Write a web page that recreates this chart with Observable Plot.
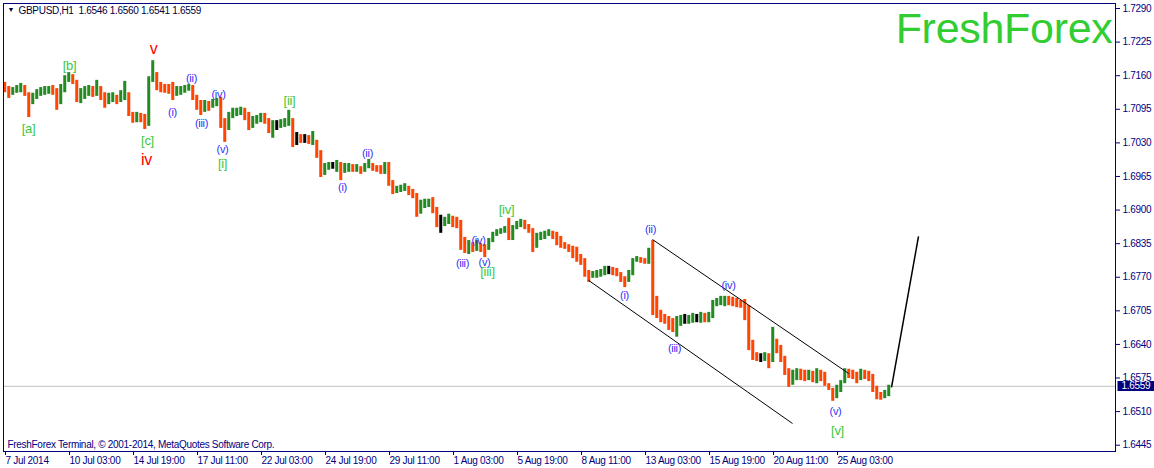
<!DOCTYPE html>
<html><head><meta charset="utf-8">
<script src="https://cdn.jsdelivr.net/npm/d3@7"></script>
<script src="https://cdn.jsdelivr.net/npm/@observablehq/plot@0.6"></script>
<style>
html,body{margin:0;padding:0;background:#fff;}
#chart{width:1154px;height:468px;overflow:hidden;}
</style></head><body><div id="chart"></div>
<script>
// ---- data (H1 bars grouped by 4 hours) ----
const symbol = "GBPUSD,H1";
const lastBar = [1.6546, 1.6560, 1.6541, 1.6559];
const copyright = "FreshForex Terminal, \u00A9 2001-2014, MetaQuotes Software Corp.";
const brand = "FreshForex";
const hoursPerBlock = 4;
const visibleBars = 1112;
const priceMin = 1.64328, priceMax = 1.72997;
const firstOpen = 1.7143;

const closes = [
1.7131,1.7126,1.7131,1.7133,1.7135,1.7124,1.7112,1.7120,1.7127,1.7130,
1.7131,1.7133,1.7127,1.7112,1.7131,1.7155,1.7156,1.7151,1.7120,1.7124,
1.7127,1.7130,1.7127,1.7139,1.7122,1.7112,1.7118,1.7120,1.7114,1.7120,
1.7126,1.7089,1.7077,1.7081,1.7079,1.7066,1.7151,1.7166,1.7139,1.7135,
1.7133,1.7131,1.7127,1.7131,1.7133,1.7135,1.7137,1.7120,1.7104,1.7097,
1.7104,1.7100,1.7106,1.7112,1.7073,1.7058,1.7081,1.7089,1.7091,1.7093,
1.7081,1.7069,1.7073,1.7077,1.7079,1.7073,1.7062,1.7064,1.7064,1.7068,
1.7071,1.7077,1.7039,1.7039,1.7037,1.7037,1.7033,1.7035,1.7011,1.6977,
1.6984,1.6986,1.6986,1.6988,1.6977,1.6980,1.6982,1.6980,1.6984,1.6977,
1.6984,1.6988,1.6980,1.6979,1.6977,1.6980,1.6953,1.6938,1.6940,1.6942,
1.6944,1.6936,1.6928,1.6903,1.6909,1.6913,1.6915,1.6903,1.6876,1.6876,
1.6880,1.6882,1.6876,1.6872,1.6833,1.6826,1.6830,1.6828,1.6830,1.6826,
1.6822,1.6839,1.6851,1.6857,1.6860,1.6862,1.6849,1.6864,1.6872,1.6876,
1.6868,1.6862,1.6831,1.6841,1.6849,1.6853,1.6857,1.6849,1.6841,1.6831,
1.6830,1.6824,1.6812,1.6806,1.6802,1.6777,1.6771,1.6773,1.6775,1.6777,
1.6783,1.6783,1.6781,1.6777,1.6766,1.6764,1.6775,1.6799,1.6804,1.6802,
1.6799,1.6818,1.6715,1.6706,1.6690,1.6686,1.6677,1.6675,1.6682,1.6686,
1.6686,1.6688,1.6690,1.6690,1.6694,1.6692,1.6694,1.6715,1.6721,1.6725,
1.6727,1.6725,1.6723,1.6721,1.6717,1.6713,1.6638,1.6619,1.6615,1.6615,
1.6617,1.6605,1.6642,1.6636,1.6613,1.6590,1.6574,1.6582,1.6584,1.6580,
1.6578,1.6582,1.6576,1.6580,1.6578,1.6562,1.6555,1.6541,1.6551,1.6564,
1.6586,1.6584,1.6580,1.6570,1.6586,1.6582,1.6576,1.6555,1.6541,1.6539,
1.6547,1.6559];

const highs = [
1.7147,1.7139,1.7137,1.7141,1.7145,1.7141,1.7127,1.7126,1.7133,1.7137,
1.7139,1.7139,1.7141,1.7135,1.7143,1.7160,1.7166,1.7162,1.7141,1.7135,
1.7139,1.7141,1.7139,1.7151,1.7139,1.7127,1.7126,1.7127,1.7122,1.7131,
1.7149,1.7127,1.7089,1.7089,1.7087,1.7085,1.7158,1.7189,1.7164,1.7147,
1.7143,1.7143,1.7147,1.7139,1.7139,1.7141,1.7143,1.7141,1.7122,1.7112,
1.7112,1.7110,1.7114,1.7116,1.7118,1.7077,1.7089,1.7097,1.7097,1.7099,
1.7097,1.7089,1.7081,1.7083,1.7087,1.7087,1.7077,1.7073,1.7073,1.7075,
1.7077,1.7093,1.7077,1.7050,1.7046,1.7046,1.7044,1.7052,1.7035,1.7015,
1.6990,1.6992,1.6992,1.6996,1.6992,1.6990,1.6990,1.6988,1.6988,1.6984,
1.6990,1.6998,1.6990,1.6986,1.6986,1.6992,1.6992,1.6957,1.6946,1.6948,
1.6951,1.6946,1.6940,1.6932,1.6919,1.6921,1.6921,1.6924,1.6905,1.6890,
1.6886,1.6892,1.6888,1.6886,1.6880,1.6847,1.6841,1.6837,1.6841,1.6835,
1.6833,1.6845,1.6857,1.6862,1.6864,1.6868,1.6884,1.6870,1.6878,1.6882,
1.6880,1.6872,1.6864,1.6855,1.6857,1.6859,1.6862,1.6859,1.6857,1.6849,
1.6837,1.6833,1.6830,1.6828,1.6814,1.6806,1.6783,1.6781,1.6783,1.6785,
1.6791,1.6791,1.6789,1.6787,1.6779,1.6771,1.6783,1.6806,1.6810,1.6808,
1.6806,1.6826,1.6841,1.6733,1.6702,1.6698,1.6694,1.6690,1.6694,1.6696,
1.6698,1.6696,1.6700,1.6698,1.6702,1.6700,1.6702,1.6725,1.6729,1.6733,
1.6733,1.6733,1.6731,1.6729,1.6725,1.6727,1.6715,1.6648,1.6624,1.6622,
1.6624,1.6622,1.6673,1.6650,1.6638,1.6617,1.6593,1.6590,1.6593,1.6592,
1.6590,1.6590,1.6588,1.6593,1.6590,1.6586,1.6564,1.6555,1.6561,1.6570,
1.6593,1.6592,1.6590,1.6586,1.6592,1.6590,1.6588,1.6582,1.6559,1.6547,
1.6551,1.6561];

const lows = [
1.7127,1.7116,1.7122,1.7126,1.7127,1.7120,1.7079,1.7104,1.7114,1.7120,
1.7122,1.7124,1.7122,1.7093,1.7104,1.7127,1.7147,1.7143,1.7108,1.7106,
1.7114,1.7120,1.7118,1.7120,1.7112,1.7097,1.7104,1.7108,1.7104,1.7108,
1.7112,1.7081,1.7068,1.7069,1.7069,1.7056,1.7062,1.7147,1.7131,1.7127,
1.7126,1.7124,1.7112,1.7120,1.7122,1.7126,1.7130,1.7112,1.7093,1.7083,
1.7089,1.7091,1.7097,1.7100,1.7058,1.7031,1.7054,1.7077,1.7081,1.7083,
1.7073,1.7054,1.7058,1.7066,1.7069,1.7066,1.7048,1.7039,1.7054,1.7058,
1.7060,1.7062,1.7021,1.7025,1.7029,1.7029,1.7027,1.7025,1.7000,1.6963,
1.6967,1.6977,1.6979,1.6973,1.6957,1.6971,1.6973,1.6973,1.6973,1.6969,
1.6973,1.6980,1.6975,1.6973,1.6969,1.6969,1.6946,1.6930,1.6932,1.6934,
1.6936,1.6928,1.6922,1.6886,1.6892,1.6903,1.6905,1.6893,1.6866,1.6855,
1.6868,1.6872,1.6866,1.6864,1.6822,1.6816,1.6814,1.6818,1.6820,1.6818,
1.6808,1.6822,1.6837,1.6849,1.6853,1.6855,1.6841,1.6841,1.6862,1.6866,
1.6862,1.6855,1.6818,1.6826,1.6841,1.6843,1.6849,1.6843,1.6831,1.6826,
1.6824,1.6818,1.6806,1.6799,1.6793,1.6770,1.6760,1.6768,1.6768,1.6770,
1.6773,1.6775,1.6773,1.6771,1.6760,1.6750,1.6760,1.6773,1.6799,1.6797,
1.6795,1.6795,1.6696,1.6690,1.6682,1.6679,1.6667,1.6663,1.6654,1.6675,
1.6679,1.6679,1.6681,1.6682,1.6681,1.6682,1.6682,1.6690,1.6713,1.6715,
1.6713,1.6715,1.6713,1.6711,1.6710,1.6686,1.6628,1.6609,1.6607,1.6605,
1.6607,1.6593,1.6605,1.6622,1.6605,1.6580,1.6557,1.6561,1.6570,1.6570,
1.6568,1.6570,1.6566,1.6564,1.6568,1.6559,1.6551,1.6530,1.6535,1.6547,
1.6566,1.6574,1.6572,1.6564,1.6574,1.6572,1.6568,1.6547,1.6533,1.6532,
1.6535,1.6539];

const timeTickBars = [0, 64, 128, 192, 256, 320, 384, 448, 512, 576, 640, 704, 768, 832];
const timeTickLabels = ["7 Jul 2014", "10 Jul 03:00", "14 Jul 19:00", "17 Jul 11:00", "22 Jul 03:00",
  "24 Jul 19:00", "29 Jul 11:00", "1 Aug 03:00", "5 Aug 19:00", "8 Aug 11:00", "13 Aug 03:00",
  "15 Aug 19:00", "20 Aug 11:00", "25 Aug 03:00"];
const priceTicks = [1.7290, 1.7225, 1.7160, 1.7095, 1.7030, 1.6965, 1.6900, 1.6835,
  1.6770, 1.6705, 1.6640, 1.6575, 1.6510, 1.6445];

// Elliott wave labels: [text, bar, price]
const redLabels = [["v", 150, 1.7211], ["iv", 143, 1.6998]];
const greenLabels = [["[a]", 25, 1.7058], ["[b]", 66, 1.7180], ["[c]", 144, 1.7033], ["[i]", 219, 1.6990],
  ["[ii]", 286, 1.7112], ["[iii]", 484, 1.6781], ["[iv]", 503, 1.6901], ["[v]", 834, 1.6473]];
const blueLabels = [["(i)", 169, 1.7089], ["(ii)", 188, 1.7155], ["(iii)", 198, 1.7068], ["(iv)", 215, 1.7124],
  ["(v)", 219, 1.7017], ["(i)", 339, 1.6944], ["(ii)", 364, 1.7010], ["(iii)", 459, 1.6797],
  ["(iv)", 475, 1.6841], ["(v)", 481, 1.6799], ["(i)", 621, 1.6735], ["(ii)", 647, 1.6862],
  ["(iii)", 671, 1.6632], ["(iv)", 725, 1.6754], ["(v)", 832, 1.6510]];

// trend lines: [bar1, price1, bar2, price2]
const channelLines = [[649, 1.6843, 845, 1.6584], [585, 1.6764, 789, 1.6487]];
const forecastLine = [[888, 1.6557, 915, 1.6849]];

// ---- build ----
const bull = "#228B22", bear = "#FF4500", doji = "#000000";
const blocks = closes.map((c, k) => {
  const o = k === 0 ? firstOpen : closes[k - 1];
  return {
    t: k * hoursPerBlock,
    hi: Math.max(highs[k], o, c),
    lo: Math.min(lows[k], o, c),
    color: Math.abs(c - o) < 0.00005 ? doji : (c > o ? bull : bear)
  };
});
const toObj = a => ({label: a[0], bar: a[1], price: a[2]});
const toLink = a => ({x1: a[0], y1: a[1], x2: a[2], y2: a[3]});
const lastClose = lastBar[3];
const title = symbol + "  " + lastBar.map(v => v.toFixed(4)).join(" ");

const svg = Plot.plot({
  width: 1154, height: 468,
  marginLeft: 3, marginRight: 39, marginTop: 3, marginBottom: 17,
  style: {fontFamily: "'Liberation Sans', Arial, sans-serif", fontSize: "10px", color: "#000080",
    background: "#fff", overflow: "visible", letterSpacing: "-0.3px"},
  x: {domain: [0, visibleBars], axis: null},
  y: {domain: [priceMin, priceMax], axis: null},
  color: {type: "identity"},
  marks: [
    Plot.ruleY([lastClose], {stroke: "#C0C0C0", strokeWidth: 1}),
    Plot.rect(blocks, {x1: "t", x2: d => d.t + hoursPerBlock, y1: "lo", y2: "hi", fill: "color", insetLeft: 0.25, insetRight: 0.75}),
    Plot.link(channelLines.map(toLink), {x1: "x1", y1: "y1", x2: "x2", y2: "y2", stroke: "#000", strokeWidth: 1}),
    Plot.link(forecastLine.map(toLink), {x1: "x1", y1: "y1", x2: "x2", y2: "y2", stroke: "#000", strokeWidth: 1.5}),
    Plot.text(redLabels.map(toObj), {x: "bar", y: "price", text: "label", fill: "#FF0000", fontSize: 16}),
    Plot.text(greenLabels.map(toObj), {x: "bar", y: "price", text: "label", fill: "#3CC83C", fontSize: 13}),
    Plot.text(blueLabels.map(toObj), {x: "bar", y: "price", text: "label", fill: "#3030F8", fontSize: 11}),
    Plot.text([brand], {frameAnchor: "top-right", dx: -3, dy: 9, textAnchor: "end", fontSize: 43, fill: "#32CD32"}),
    Plot.text(["\u25BC"], {frameAnchor: "top-left", dx: 4, dy: 4, textAnchor: "start", fontSize: 7, fill: "#000040"}),
    Plot.text([title], {frameAnchor: "top-left", dx: 15, dy: 3, textAnchor: "start", fontSize: 10, fill: "#000040"}),
    Plot.text([copyright], {frameAnchor: "bottom-left", dx: 4, dy: -4, textAnchor: "start", fontSize: 10, fill: "#000080"}),
    Plot.axisY(priceTicks, {anchor: "right", tickSize: 4, tickPadding: 3, tickFormat: d => d.toFixed(4), fontSize: 10}),
    Plot.axisX(timeTickBars, {anchor: "bottom", tickSize: 4, tickPadding: 1, textAnchor: "start", dx: 2, fontSize: 10,
      tickFormat: d => timeTickLabels[timeTickBars.indexOf(d)]}),
    Plot.text([lastClose], {y: d => d, frameAnchor: "right", dx: 6, textAnchor: "start", fill: "#fff", fontSize: 10,
      text: d => d.toFixed(4)}),
    Plot.frame({stroke: "#000080"})
  ]
});
document.getElementById("chart").append(svg);

// navy box behind the current-price tag (same local coordinates as the text)
const tagText = lastClose.toFixed(4);
Array.from(svg.querySelectorAll("text")).filter(t => t.textContent === tagText).forEach(t => {
  const b = t.getBBox();
  const r = document.createElementNS("http://www.w3.org/2000/svg", "rect");
  r.setAttribute("x", b.x - 4); r.setAttribute("y", b.y + 0.5);
  r.setAttribute("width", b.width + 8); r.setAttribute("height", b.height - 1);
  r.setAttribute("fill", "#000080");
  if (t.getAttribute("transform")) r.setAttribute("transform", t.getAttribute("transform"));
  t.parentNode.insertBefore(r, t);
});
</script>
</body></html>
